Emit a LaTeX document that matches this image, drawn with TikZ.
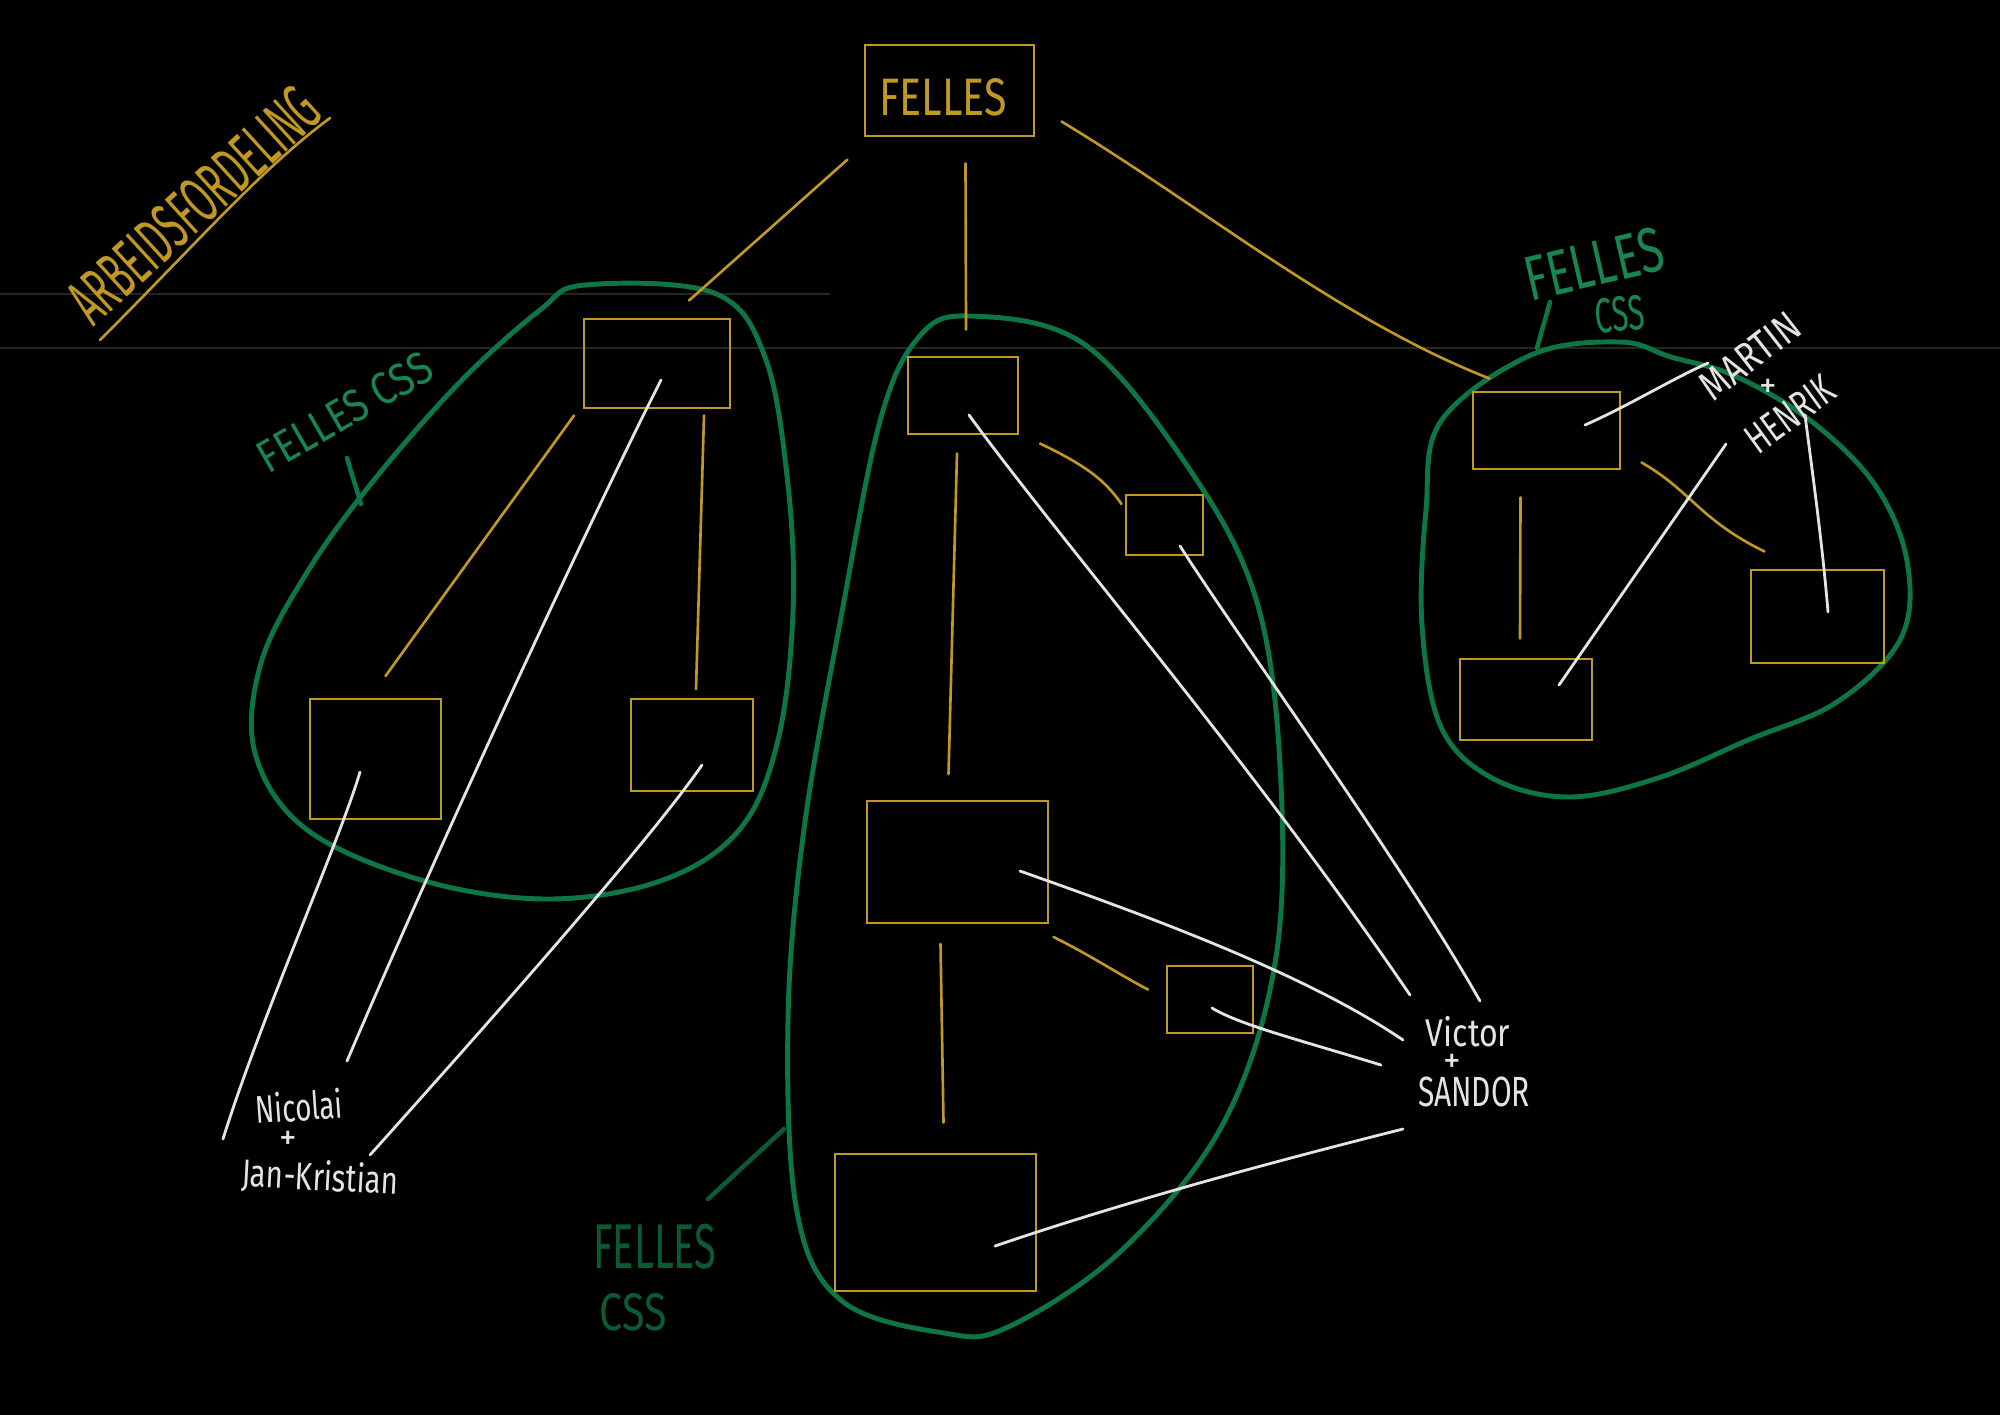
\documentclass[tikz,border=0pt]{standalone}
\usepackage{fontspec}
\setmainfont{Fira Sans}
\usepackage{graphicx}
\definecolor{gold}{RGB}{192,152,34}
\definecolor{blobgreen}{RGB}{14,118,68}
\definecolor{lblgreen}{RGB}{24,134,80}
\definecolor{darkgreen}{RGB}{12,90,52}
\definecolor{chalk}{RGB}{228,228,228}
\definecolor{scan}{RGB}{30,42,30}
\begin{document}
\begin{tikzpicture}[x=0.01cm,y=-0.01cm,
  box/.style={draw=gold, line width=0.75pt, inner sep=0pt},
  gline/.style={draw=gold, line width=0.75pt, line cap=round},
  wline/.style={draw=chalk, line width=0.8pt, line cap=round},
  blob/.style={draw=blobgreen, line width=1.4pt},
  gpoint/.style={draw=blobgreen, line width=1.3pt, line cap=round},
  hand/.style={inner sep=0pt, text=#1}]
% bounds and background
\useasboundingbox (0,0) rectangle (2000,1414);
\fill[black] (-10,-10) rectangle (2010,1424);
% faint scan lines
\draw[scan, line width=0.35pt] (0,294) -- (830,294);
\draw[scan, line width=0.35pt] (0,348) -- (2000,348);

% title
\node[hand=gold, rotate=42.4, font=\fontsize{19}{21}\selectfont] (title) at (194,205) {\scalebox{0.53}[1]{ARBEIDSFORDELING}};
\draw[gline] (100,340) .. controls (200,240) and (260,170) .. (330,118);

% FELLES top box
\node[box, minimum width=1.69cm, minimum height=0.91cm] (felles) at (949.5,90.5) {};
\node[hand=gold, font=\fontsize{15}{17}\selectfont] (fellestxt) at (943,97) {\scalebox{0.78}[1]{FELLES}};

% green blobs
\draw[blob] plot[smooth cycle, tension=0.6] coordinates {(585,285) (714,293) (765,357) (788,485) (793,612) (778,740) (740,829) (663,880) (548,899) (421,880) (306,829) (255,753) (261,663) (306,574) (370,485) (459,383) (540,310)};
\draw[blob] plot[smooth cycle, tension=0.6] coordinates {(969,316) (1084,344) (1190,470) (1256,599) (1280,765) (1276,957) (1224,1122) (1122,1250) (1008,1327) (944,1333) (842,1301) (797,1212) (788,1020) (804,829) (842,612) (880,421) (918,338)};
\draw[blob] plot[smooth cycle, tension=0.6] coordinates {(1441,421) (1531,355) (1620,342) (1671,357) (1735,376) (1811,421) (1875,485) (1907,561) (1901,638) (1837,702) (1748,740) (1658,778) (1569,797) (1492,778) (1441,727) (1422,625) (1426,510)};

% green labels
\node[hand=lblgreen, rotate=30, font=\fontsize{13}{15}\selectfont] (cssL) at (345,412) {\scalebox{0.85}[1]{FELLES CSS}};
\coordinate (pL) at (361,504);
\draw[gpoint] ([shift={(2,46)}]cssL.center) -- (pL);

\node[hand=lblgreen, rotate=13, font=\fontsize{18}{20}\selectfont] (cssR1) at (1594,264) {\scalebox{0.72}[1]{FELLES}};
\node[hand=lblgreen, rotate=5, font=\fontsize{14}{16}\selectfont] (cssR2) at (1620,314) {\scalebox{0.62}[1]{CSS}};
\coordinate (pR) at (1537,348);
\draw[gpoint] ([shift={(-44,38)}]cssR1.center) -- (pR);

\node[hand=darkgreen, font=\fontsize{18}{20}\selectfont] (cssB1) at (655,1247) {\scalebox{0.63}[1]{FELLES}};
\node[hand=darkgreen, font=\fontsize{15}{17}\selectfont] (cssB2) at (633,1312) {\scalebox{0.78}[1]{CSS}};
\coordinate (pB) at (784,1129);
\draw[gpoint, darkgreen] ([shift={(53,-48)}]cssB1.center) -- (pB);

% left group boxes
\node[box, minimum width=1.46cm, minimum height=0.89cm] (L1) at (657,363.5) {};
\node[box, minimum width=1.31cm, minimum height=1.20cm] (L2) at (375.5,759) {};
\node[box, minimum width=1.22cm, minimum height=0.92cm] (L3) at (692,745) {};
% middle group boxes
\node[box, minimum width=1.10cm, minimum height=0.77cm] (M1) at (963,395.5) {};
\node[box, minimum width=0.77cm, minimum height=0.60cm] (M2) at (1164.5,525) {};
\node[box, minimum width=1.81cm, minimum height=1.22cm] (M3) at (957.5,862) {};
\node[box, minimum width=0.86cm, minimum height=0.67cm] (M4) at (1210,999.5) {};
\node[box, minimum width=2.01cm, minimum height=1.37cm] (M5) at (935.5,1222.5) {};
% right group boxes
\node[box, minimum width=1.47cm, minimum height=0.77cm] (R1) at (1546.5,430.5) {};
\node[box, minimum width=1.33cm, minimum height=0.93cm] (R2) at (1817.5,616.5) {};
\node[box, minimum width=1.32cm, minimum height=0.81cm] (R3) at (1526,699.5) {};

% gold connectors
\draw[gline] ([shift={(-102,69)}]felles.center) -- ([shift={(32,-63)}]L1.center);
\draw[gline] ([shift={(16,73)}]felles.center) -- ([shift={(3,-66)}]M1.center);
\draw[gline] ([shift={(112,31)}]felles.center) .. controls (1200,205) and (1340,320) .. ([shift={(-57,-52)}]R1.center);
\draw[gline] ([shift={(-83,52)}]L1.center) -- ([shift={(10,-83)}]L2.center);
\draw[gline] ([shift={(47,52)}]L1.center) -- ([shift={(4,-56)}]L3.center);
\draw[gline] ([shift={(-6,58)}]M1.center) -- ([shift={(-9,-88)}]M3.center);
\draw[gline] ([shift={(77,48)}]M1.center) .. controls (1085,465) and (1105,480) .. ([shift={(-43,-21)}]M2.center);
\draw[gline] ([shift={(-17,82)}]M3.center) -- ([shift={(8,-100)}]M5.center);
\draw[gline] ([shift={(96,75)}]M3.center) .. controls (1090,955) and (1120,975) .. ([shift={(-62,-10)}]M4.center);
\draw[gline] ([shift={(-26,67)}]R1.center) -- ([shift={(-6,-61)}]R3.center);
\draw[gline] ([shift={(95,32)}]R1.center) .. controls (1690,490) and (1700,520) .. ([shift={(-53,-65)}]R2.center);

% name labels
\node[hand=chalk, rotate=4, font=\fontsize{11}{13}\selectfont] (nicolai) at (299,1106) {\scalebox{0.72}[1]{Nicolai}};
\node[hand=chalk, font=\fontsize{10}{12}\selectfont] (plusN) at (288,1140) {+};
\node[hand=chalk, rotate=-3, font=\fontsize{11}{13}\selectfont] (jan) at (320,1178) {\scalebox{0.76}[1]{Jan-Kristian}};

\node[hand=chalk, font=\fontsize{11}{13}\selectfont] (victor) at (1468,1032) {\scalebox{0.83}[1]{Victor}};
\node[hand=chalk, font=\fontsize{10}{12}\selectfont] (plusV) at (1452,1063) {+};
\node[hand=chalk, font=\fontsize{12}{14}\selectfont] (sandor) at (1474,1092) {\scalebox{0.71}[1]{SANDOR}};

\node[hand=chalk, rotate=38, font=\fontsize{12}{14}\selectfont] (martin) at (1750,356) {\scalebox{0.79}[1]{MARTIN}};
\node[hand=chalk, font=\fontsize{10}{12}\selectfont] (plusM) at (1768,388) {+};
\node[hand=chalk, rotate=36, font=\fontsize{12}{14}\selectfont] (henrik) at (1790,414) {\scalebox{0.70}[1]{HENRIK}};

% white connectors
\draw[wline] ([shift={(-15.5,13)}]L2.center) .. controls (340,840) and (260,1020) .. ([shift={(-76,33)}]nicolai.center);
\draw[wline] ([shift={(4,16.5)}]L1.center) .. controls (600,500) and (450,820) .. ([shift={(48,-45)}]nicolai.center);
\draw[wline] ([shift={(10,20)}]L3.center) .. controls (650,840) and (500,1010) .. ([shift={(50,-23)}]jan.center);
\draw[wline] ([shift={(6,19.5)}]M1.center) .. controls (1060,540) and (1250,760) .. ([shift={(-58,-37)}]victor.center);
\draw[wline] ([shift={(15.5,21)}]M2.center) .. controls (1240,640) and (1400,860) .. ([shift={(12,-31)}]victor.center);
\draw[wline] ([shift={(62.5,9)}]M3.center) .. controls (1130,910) and (1300,970) .. ([shift={(-65,8)}]victor.center);
\draw[wline] ([shift={(2,8.5)}]M4.center) .. controls (1240,1025) and (1300,1040) .. ([shift={(-93,-27)}]sandor.center);
\draw[wline] ([shift={(59.5,23.5)}]M5.center) .. controls (1130,1200) and (1280,1160) .. ([shift={(-71,37)}]sandor.center);
\draw[wline] ([shift={(38.5,-5.5)}]R1.center) .. controls (1630,405) and (1670,380) .. ([shift={(-42,7)}]martin.center);
\draw[wline] ([shift={(33,-14.5)}]R3.center) -- ([shift={(-64,30)}]henrik.center);
\draw[wline] ([shift={(10.5,-4.5)}]R2.center) .. controls (1822,540) and (1812,470) .. ([shift={(15,1)}]henrik.center);
\end{tikzpicture}
\end{document}
